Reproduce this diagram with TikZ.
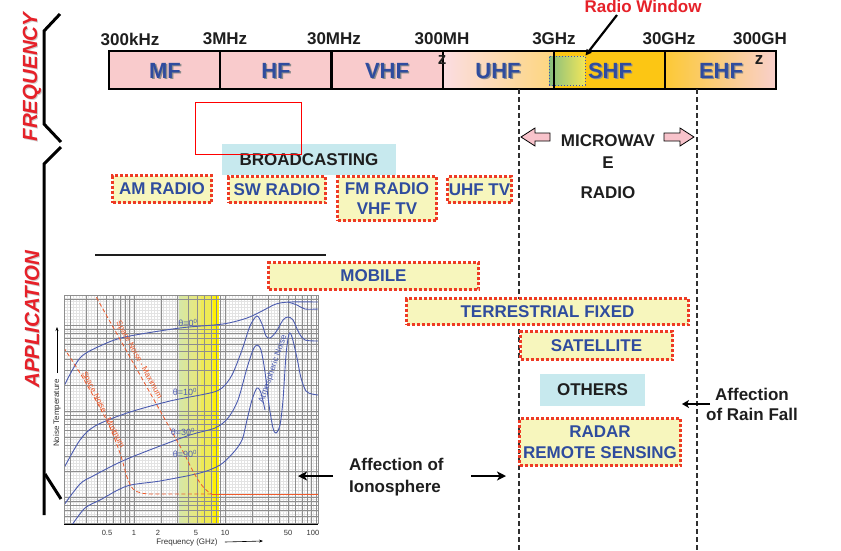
\documentclass[tikz,border=0pt]{standalone}
\usepackage{fontspec}
\setmainfont{Liberation Sans}
\usetikzlibrary{arrows.meta}
\definecolor{bandpink}{HTML}{F9CBCC}
\definecolor{uhfleft}{HTML}{FBDDE2}
\definecolor{uhfmid}{HTML}{FCE3CA}
\definecolor{uhfright}{HTML}{FDD67E}
\definecolor{shfgold}{HTML}{FCC614}
\definecolor{ehfleft}{HTML}{FCC935}
\definecolor{ehfmid}{HTML}{FAD7A4}
\definecolor{ehfright}{HTML}{F9D0CC}
\definecolor{winleft}{HTML}{86BE7E}
\definecolor{winright}{HTML}{F2E65A}
\definecolor{winblue}{HTML}{4050B5}
\definecolor{lblblue}{HTML}{2F4C9E}
\definecolor{shadowgray}{HTML}{8C8C8C}
\definecolor{titleshadow}{HTML}{CFCFCF}
\definecolor{txtblack}{HTML}{1E1E1E}
\definecolor{titlered}{HTML}{E62129}
\definecolor{appred}{HTML}{EE3A24}
\definecolor{appyellow}{HTML}{F7F6BD}
\definecolor{boxcyan}{HTML}{C7E9EE}
\definecolor{arrowpink}{HTML}{F8C3CB}
\definecolor{dashgray}{HTML}{303030}
\definecolor{finegridc}{HTML}{E3E3E3}
\definecolor{majgridc}{HTML}{8E8E8E}
\definecolor{curveblue}{HTML}{4C5CB0}
\definecolor{noisered}{HTML}{EF5A2B}
\definecolor{chartgreen}{HTML}{D6E7A8}
\definecolor{chartyel}{HTML}{ECE871}
\definecolor{chartyelb}{HTML}{EEEA55}
\definecolor{brightyel}{HTML}{FFF000}
\definecolor{ticktext}{HTML}{333333}
\newcommand{\fontband}{\fontsize{22}{24}\selectfont\bfseries}
\newcommand{\fontmed}{\fontsize{17}{20}\selectfont\bfseries}
\newcommand{\fonttitle}{\fontsize{20.5}{22}\selectfont\bfseries\itshape}
\newcommand{\fontsmallc}{\fontsize{8}{9}\selectfont}
\newcommand{\fonttickc}{\fontsize{7.5}{9}\selectfont}
\begin{document}
\begin{tikzpicture}[x=1pt,y=-1pt,
  bandlbl/.style={font=\fontband, text=lblblue, inner sep=0pt},
  bandshadow/.style={font=\fontband, text=shadowgray, inner sep=0pt},
  freqlbl/.style={font=\fontmed, text=txtblack, inner sep=0pt},
  titlelbl/.style={font=\fonttitle, text=titlered, rotate=90, inner sep=0pt},
  titleshad/.style={font=\fonttitle, text=titleshadow, rotate=90, inner sep=0pt},
  bandbox/.style={draw=black, line width=1.3pt},
  appbox/.style={draw=appred, line width=2.8pt, dash pattern=on 3pt off 2pt, fill=appyellow, inner sep=0pt, font=\fontmed, text=lblblue, align=center},
  cyanbox/.style={fill=boxcyan, inner sep=0pt, font=\fontmed, text=txtblack, align=center},
  plaintxt/.style={font=\fontmed, text=txtblack, inner sep=0pt},
  bracket/.style={line width=3pt, draw=black},
  vdash/.style={draw=dashgray, line width=1.2pt, dash pattern=on 5pt off 3pt},
  bigarrow/.style={draw=black, line width=2pt, -{Stealth[length=9pt,width=9pt,inset=2.5pt]}},
  midarrow/.style={draw=black, line width=2pt, -{Stealth[length=7pt,width=8pt,inset=2pt]}},
  thinarrow/.style={draw=black, line width=0.6pt, -{Stealth[length=4pt,width=3pt]}},
  pinkarrow/.style={draw=black, line width=0.8pt, fill=arrowpink},
  gridfine/.style={draw=finegridc, line width=0.35pt},
  gridmajor/.style={draw=majgridc, line width=0.7pt},
  ncurve/.style={draw=curveblue, line width=0.9pt},
  rednoise/.style={draw=noisered, line width=0.8pt, dash pattern=on 4pt off 2.5pt},
  thetalbl/.style={font=\fontsize{9}{10}\selectfont, text=curveblue, inner sep=0pt},
  noiselbl/.style={font=\fontsmallc, text=noisered, inner sep=0pt},
  ticklbl/.style={font=\fonttickc, text=ticktext, inner sep=0pt}
]
\useasboundingbox (0,0) rectangle (841,550);
\fill[white] (0,0) rectangle (841,550);

% ---------- left titles and brackets ----------
\node[titleshad] (freqsh) at (33,78) {FREQUENCY};
\node[titlelbl] (freqtitle) at (32,77) {FREQUENCY};
\node[titleshad] (appsh) at (33,320) {APPLICATION};
\node[titlelbl] (apptitle) at (32,319) {APPLICATION};
\draw[bracket] (60,14) -- (44,31) -- (44,124) -- (61,142);
\draw[bracket] (61,147) -- (44,164) -- (44,515);
\draw[bracket] (45,474) -- (61,499);

% ---------- frequency band ----------
\fill[bandpink] (109,51) rectangle (220,89);
\fill[bandpink] (220,51) rectangle (331,89);
\fill[bandpink] (332.5,51) rectangle (443,89);
\shade[left color=uhfleft, middle color=uhfmid, right color=uhfright] (443,51) rectangle (554,89);
\fill[shfgold] (554,51) rectangle (665,89);
\shade[left color=ehfleft, middle color=ehfmid, right color=ehfright] (665,51) rectangle (776,89);
\node[draw=winblue, line width=1pt, dotted, left color=winleft, right color=winright, minimum width=36pt, minimum height=29pt, inner sep=0pt] (win) at (567,70.5) {};
\draw[bandbox] (109,51) rectangle (331,89);
\draw[bandbox] (220,51) -- (220,89);
\draw[bandbox] (332.5,51) rectangle (776,89);
\draw[bandbox] (443,51) -- (443,89);
\draw[bandbox] (554,51) -- (554,89);
\draw[bandbox] (665,51) -- (665,89);

\foreach \nm/\xx/\tx in {mf/165/MF, hf/276/HF, vhf/387/VHF, uhf/498/UHF, shf/610/SHF, ehf/721/EHF}{
  \node[bandshadow] (\nm s) at (\xx+1.4,72.4) {\tx};
  \node[bandlbl] (\nm) at (\xx,71) {\tx};
}

\node[freqlbl] (f300k) at (130,39) {300kHz};
\node[freqlbl] (f3m) at (225,39) {3MHz};
\node[freqlbl] (f30m) at (334,39) {30MHz};
\node[freqlbl] (f300m) at (442,39) {300MH};
\node[freqlbl] (f300mz) at (442,60) {z};
\node[freqlbl] (f3g) at (554,39) {3GHz};
\node[freqlbl] (f30g) at (669,39) {30GHz};
\node[freqlbl] (f300g) at (760,39) {300GH};
\node[freqlbl] (f300gz) at (759,60) {z};

\node[font=\fontmed, text=titlered, inner sep=0pt] (rw) at (643,6) {Radio Window};
\coordinate (rwtail) at (617,15);
\draw[draw=black, line width=2.2pt, -{Triangle[length=6pt,width=6pt]}] (rwtail) -- (win.north east);

% ---------- dashed limits and microwave ----------
\draw[vdash] (519,89) -- (519,550);
\draw[vdash] (697,89) -- (697,550);
\draw[pinkarrow] (521,137) -- (535,128) -- (535,133) -- (550,133) -- (550,141) -- (535,141) -- (535,146) -- cycle;
\draw[pinkarrow] (694,137) -- (680,128) -- (680,133) -- (664,133) -- (664,141) -- (680,141) -- (680,146) -- cycle;
\node[plaintxt] (mw1) at (608,141) {MICROWAV};
\node[plaintxt] (mw2) at (608,163) {E};
\node[plaintxt] (mw3) at (608,193) {RADIO};

% ---------- broadcasting ----------
\node[cyanbox, minimum width=174pt, minimum height=31pt] (bc) at (309,159.5) {BROADCASTING};
\draw[draw=red, line width=1pt] (195,102) rectangle (301,154);
\node[appbox, minimum width=99pt, minimum height=27pt] (am) at (162,189) {AM RADIO};
\node[appbox, minimum width=97pt, minimum height=26pt] (sw) at (277,189.5) {SW RADIO};
\node[appbox, minimum width=99pt, minimum height=44pt] (fm) at (387,198.5) {FM RADIO\\VHF TV};
\node[appbox, minimum width=64pt, minimum height=26pt] (uhftv) at (479.5,189.5) {UHF TV};

\draw[draw=txtblack, line width=1.1pt] (95,255) -- (326,255);

\node[appbox, minimum width=210pt, minimum height=27pt] (mobile) at (373.5,276) {MOBILE};
\node[appbox, minimum width=282pt, minimum height=26pt] (terr) at (547.5,311.5) {TERRESTRIAL FIXED};
\node[appbox, minimum width=152pt, minimum height=28pt] (sat) at (596.5,345.5) {SATELLITE};
\node[cyanbox, minimum width=105pt, minimum height=32pt] (others) at (592.5,390) {OTHERS};
\node[appbox, minimum width=161pt, minimum height=47pt, font=\fontsize{17}{21}\selectfont\bfseries] (radar) at (600,442) {RADAR\\REMOTE SENSING};

% ---------- chart ----------
\begin{scope}
\clip (64,295) rectangle (318,524);
\fill[white] (64,295) rectangle (318,524);
\foreach \i in {0,...,85}{ \draw[gridfine] ({64+3*\i},295) -- ({64+3*\i},524); }
\foreach \i in {0,...,77}{ \draw[gridfine] (64,{295+3*\i}) -- (318,{295+3*\i}); }
\shade[left color=chartgreen, right color=chartyel] (179,295) rectangle (201,524);
\fill[chartyelb] (201,295) rectangle (213,524);
\fill[brightyel] (213,295) rectangle (219,524);
\foreach \f in {0.2,0.3,0.4,0.5,0.6,0.7,0.8,0.9,1,2,3,4,5,6,7,8,9,10,20,30,40,50,60,70,80,90,100}{
  \pgfmathsetmacro{\xx}{134+91*log10(\f)}
  \draw[gridmajor] (\xx,295) -- (\xx,524);
}
\foreach \v in {0.5,0.6,0.7,0.8,0.9,1,2,3,4,5,6,7,8,9,10,20,30,40,50,60,70,80,90,100,200}{
  \pgfmathsetmacro{\yy}{497-86*log10(\v)}
  \draw[gridmajor] (64,\yy) -- (318,\yy);
}
% noise curves
\draw[ncurve] plot[smooth, tension=0.5] coordinates {(64,386) (80,358) (100,346) (125,337) (180,328) (223,324) (247,318) (262,311) (276,304) (290,302) (318,302)};
\draw[ncurve] plot[smooth, tension=0.5] coordinates {(288,302) (297,305) (305,309) (318,309)};
\draw[ncurve] plot[smooth, tension=0.5] coordinates {(64,468) (80,440) (95,426) (127,413) (170,401) (210,393) (222,388) (232,375) (242,350) (250,326) (257,316) (262,324) (266,336) (270,338) (276,332) (283,320) (288,317) (293,320) (299,333) (305,340) (318,341)};
\draw[ncurve] plot[smooth, tension=0.5] coordinates {(64,505) (80,484) (93,476) (127,459) (187,436) (215,428) (228,418) (238,400) (247,368) (253,350) (257,345) (261,350) (265,372) (269,405) (273,428) (276,433) (280,425) (283,400) (286,355) (289,334) (292,337) (297,358) (301,378) (306,391) (312,394) (318,395)};
\draw[ncurve] plot[smooth, tension=0.5] coordinates {(72,525) (85,508) (100,500) (127,486) (160,481) (200,473) (220,465) (233,453) (242,440) (247,420) (252,400) (257,388) (261,393) (265,410)};
% space noise
\draw[rednoise] (90,286) -- (185,455) .. controls (193,472) and (202,490) .. (212,494);
\draw[rednoise] plot[smooth, tension=0.5] coordinates {(60,342) (64,348) (83,378) (107,421) (120,453) (127,477) (133,489) (141,493) (150,494)} -- (212,494);
\draw[draw=noisered, line width=0.9pt] (212,494) -- (318,494);
\node[noiselbl, rotate=-61] (snmax) at (139,360) {Space Noise - Maximum};
\node[noiselbl, rotate=-63] (snmin) at (103,410) {Space Noise - Minimum};
\node[thetalbl, font=\fontsize{8.5}{10}\selectfont, rotate=71] (atm) at (273,369) {Atmospheric Noise};
\node[thetalbl] (th0) at (188,323) {θ=0\textsuperscript{0}};
\node[thetalbl] (th10) at (185,392) {θ=10\textsuperscript{0}};
\node[thetalbl] (th30) at (183,432) {θ=30\textsuperscript{0}};
\node[thetalbl] (th90) at (185,454) {θ=90\textsuperscript{0}};
\end{scope}
\draw[draw=majgridc, line width=0.8pt] (64,524) -- (64,295) -- (318,295) -- (318,524);
\draw[draw=black, line width=1pt] (64,524) -- (318,524);

\foreach \nm/\xx/\tx in {t05/107/0.5, t1/134/1, t2/158/2, t5/196/5, t10/225/10, t50/288/50, t100/313/100}{
  \node[ticklbl] (\nm) at (\xx,533) {\tx};
}
\node[font=\fontsmallc, text=ticktext, inner sep=0pt] (fghz) at (187,542) {Frequency (GHz)};
\coordinate (fghzend) at (263,541);
\draw[thinarrow] ([xshift=7pt]fghz.east) -- (fghzend);
\node[font=\fontsmallc, text=ticktext, inner sep=0pt, rotate=90] (ntemp) at (57,413) {Noise Temperature};
\coordinate (ntempend) at (57,327);
\draw[thinarrow] ([yshift=6pt]ntemp.east) -- (ntempend);

% ---------- affection notes ----------
\node[font=\fontsize{17}{22}\selectfont\bfseries, text=txtblack, align=left, anchor=west, inner sep=0pt] (iono) at (349,477) {Affection of\\Ionosphere};
\coordinate (ionoL) at (298,476);
\coordinate (ionoLs) at (333,476);
\coordinate (ionoRs) at (471,476);
\coordinate (ionoR) at (506,476);
\draw[bigarrow] (ionoLs) -- (ionoL);
\draw[bigarrow] (ionoRs) -- (ionoR);
\node[font=\fontsize{17}{20}\selectfont\bfseries, text=txtblack, align=center, inner sep=0pt] (rain) at (752,404) {Affection\\of Rain Fall};
\coordinate (rainL) at (682,404);
\coordinate (rainS) at (710,404);
\draw[midarrow] (rainS) -- (rainL);
\end{tikzpicture}
\end{document}
